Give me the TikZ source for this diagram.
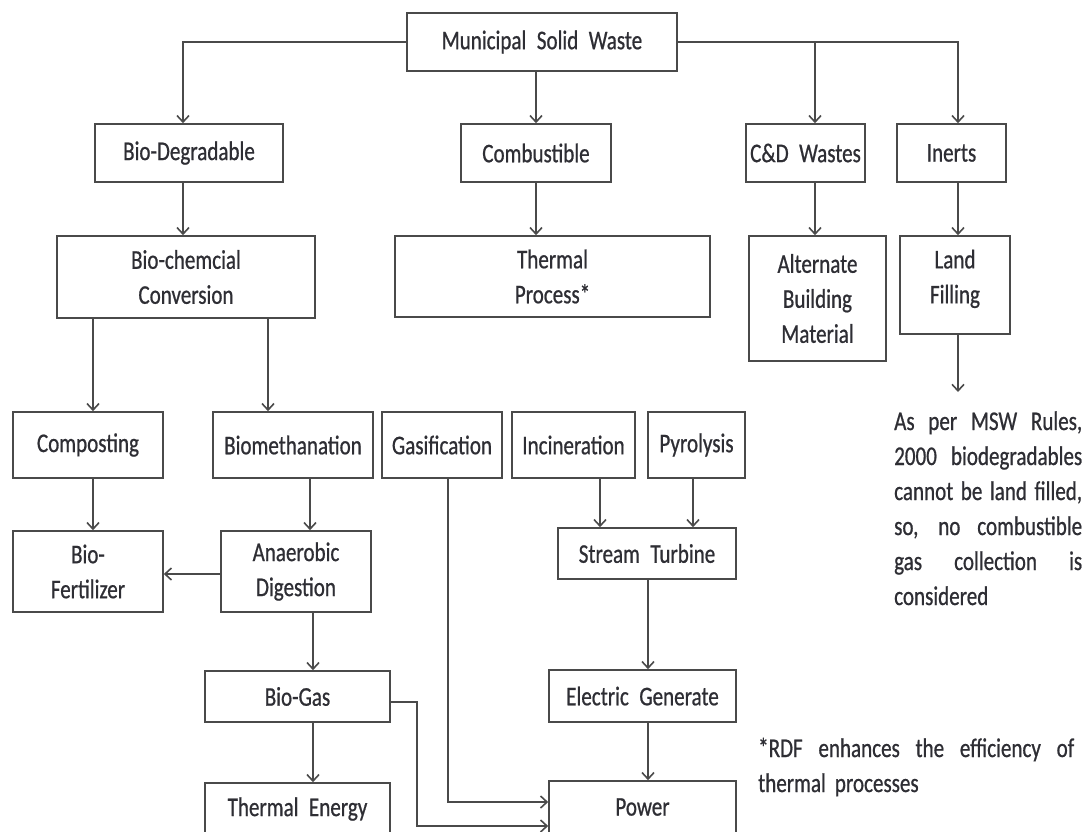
\documentclass[tikz,border=0pt]{standalone}
\usepackage{fontspec}
\setmainfont{Carlito}[FakeStretch=0.78, WordSpace=2.2, FakeBold=0.7]
\newfontfamily\notefont{Carlito}[FakeStretch=0.78, FakeBold=0.7]
\usetikzlibrary{arrows.meta}
\definecolor{ln}{HTML}{4a4a4a}
\definecolor{tx}{HTML}{2e2e34}
\begin{document}
\begin{tikzpicture}[x=1pt,y=-1pt,
  box/.style={draw=ln, line width=1.6pt, rectangle, inner sep=0pt, align=center, text=tx,
    font=\fontsize{27}{35}\selectfont},
  arr/.style={draw=ln, line width=1.6pt, -{Straight Barb[length=6.5pt,width=12pt]}},
  note/.style={anchor=base west, inner sep=0pt, text=tx, font=\notefont\fontsize{27}{35}\selectfont},
  ]
\useasboundingbox[fill=white] (0,0) rectangle (1088,831);
% level 0
\node[box, minimum width=270pt, minimum height=58pt] (msw) at (542,42) {Municipal Solid Waste};
% level 1
\node[box, minimum width=188pt, minimum height=58pt] (bio) at (189,153) {Bio-Degradable};
\node[box, minimum width=150pt, minimum height=58pt] (comb) at (536,153) {Combustible};
\node[box, minimum width=119pt, minimum height=58pt] (cd) at (805.5,153) {C\&D Wastes};
\node[box, minimum width=109pt, minimum height=58pt] (inert) at (951.5,153) {Inerts};
% level 2
\node[box, minimum width=258pt, minimum height=82pt] (biochem) at (186,277) {Bio-chemcial\\Conversion};
\node[box, minimum width=315pt, minimum height=81pt] (thermal) at (552.5,276.5) {Thermal\\Process*};
\node[box, minimum width=137pt, minimum height=125pt] (alt) at (817.5,298.5) {Alternate\\Building\\Material};
\node[box, minimum width=110pt, minimum height=98pt, text depth=17pt] (land) at (955,285) {Land\\Filling};
% level 3
\node[box, minimum width=150pt, minimum height=66pt] (comp) at (88,445) {Composting};
\node[box, minimum width=160pt, minimum height=66pt] (biometh) at (293,445) {Biomethanation};
\node[box, minimum width=120pt, minimum height=66pt] (gas) at (442,445) {Gasification};
\node[box, minimum width=123pt, minimum height=66pt] (incin) at (573.5,445) {Incineration};
\node[box, minimum width=97pt, minimum height=66pt] (pyro) at (696.5,445) {Pyrolysis};
% level 4
\node[box, minimum width=150pt, minimum height=81pt] (fert) at (88,571.5) {Bio-\\Fertilizer};
\node[box, minimum width=150pt, minimum height=81pt] (anaer) at (296,571.5) {Anaerobic\\Digestion};
\node[box, minimum width=178pt, minimum height=51pt] (turb) at (647,553.5) {Stream Turbine};
% level 5
\node[box, minimum width=185pt, minimum height=51pt] (biogas) at (297.5,696.5) {Bio-Gas};
\node[box, minimum width=187pt, minimum height=52pt] (elec) at (642.5,696) {Electric Generate};
% level 6
\node[box, minimum width=185pt, minimum height=52pt] (thermE) at (297.5,809) {Thermal Energy};
\node[box, minimum width=187pt, minimum height=52pt] (power) at (642.5,807) {Power};
% notes
\coordinate (landnote) at (958,392);
\node[note] (n1) at (894,430) {\makebox[188pt][s]{As per MSW Rules,}};
\node[note] (n2) at (894,465) {\makebox[188pt][s]{2000 biodegradables}};
\node[note] (n3) at (894,500) {\makebox[188pt][s]{cannot be land filled,}};
\node[note] (n4) at (894,535) {\makebox[188pt][s]{so, no combustible}};
\node[note] (n5) at (894,570) {\makebox[188pt][s]{gas collection is}};
\node[note] (n6) at (894,605) {considered};
\node[note] (f1) at (758,757) {\makebox[316pt][s]{*RDF enhances the efficiency of}};
\node[note] (f2) at (758,792) {thermal\hspace{9pt}processes};
% connectors
\draw[arr] (msw.west) -| ([xshift=-6pt]bio.north);
\draw[arr] (comb.north |- msw.south) -- (comb.north);
\draw[arr] (msw.east) -| ([xshift=6.5pt]inert.north);
\draw[arr] ([xshift=9.5pt]cd.north |- msw.east) -- ([xshift=9.5pt]cd.north);
\draw[arr] ([xshift=-6pt]bio.south) -- ([xshift=-6pt]bio.south |- biochem.north);
\draw[arr] (comb.south) -- (comb.south |- thermal.north);
\draw[arr] ([xshift=9.5pt]cd.south) -- ([xshift=9.5pt]cd.south |- alt.north);
\draw[arr] ([xshift=6.5pt]inert.south) -- ([xshift=6.5pt]inert.south |- land.north);
\draw[arr] ([xshift=3pt]land.south) -- (landnote);
\draw[arr] ([xshift=5pt]comp.north |- biochem.south) -- ([xshift=5pt]comp.north);
\draw[arr] ([xshift=-25pt]biometh.north |- biochem.south) -- ([xshift=-25pt]biometh.north);
\draw[arr] ([xshift=5pt]comp.south) -- ([xshift=5pt]fert.north);
\draw[arr] ([xshift=17pt]biometh.south) -- ([xshift=17pt]biometh.south |- anaer.north);
\draw[arr] ([yshift=-2.5pt]anaer.west) -- ([yshift=-2.5pt]fert.east);
\draw[arr] ([xshift=17pt]anaer.south) -- ([xshift=17pt]anaer.south |- biogas.north);
\draw[arr] ([xshift=15.5pt]biogas.south) -- ([xshift=15.5pt]biogas.south |- thermE.north);
\draw[arr] ([yshift=-5.5pt]biogas.east) -- ++(26,0) |- ([yshift=-19pt]power.west);
\draw[arr] ([xshift=6pt]gas.south) |- ([yshift=5pt]power.west);
\draw[arr] ([xshift=26.5pt]incin.south) -- ([xshift=26.5pt]incin.south |- turb.north);
\draw[arr] ([xshift=-3.5pt]pyro.south) -- ([xshift=-3.5pt]pyro.south |- turb.north);
\draw[arr] ([xshift=1pt]turb.south) -- ([xshift=1pt]turb.south |- elec.north);
\draw[arr] ([xshift=5.5pt]elec.south) -- ([xshift=5.5pt]elec.south |- power.north);
\end{tikzpicture}
\end{document}
